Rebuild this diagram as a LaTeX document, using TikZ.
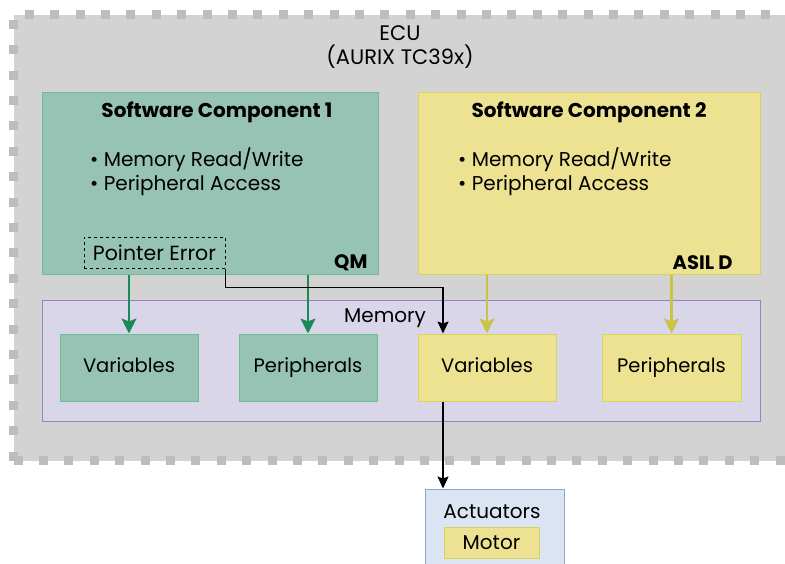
\documentclass[tikz,border=0pt]{standalone}
\usepackage{fontspec}
\setmainfont{Poppins}
\usetikzlibrary{arrows.meta,positioning}
\definecolor{ecufill}{HTML}{D3D3D3}
\definecolor{ecudash}{HTML}{BDBDBD}
\definecolor{qmfill}{HTML}{96C3B4}
\definecolor{qmline}{HTML}{6DBE8C}
\definecolor{asilfill}{HTML}{EDE291}
\definecolor{asilline}{HTML}{D6D35E}
\definecolor{memfill}{HTML}{DAD6EA}
\definecolor{memline}{HTML}{A37BC0}
\definecolor{qmarrow}{HTML}{1A8A5A}
\definecolor{asilarrow}{HTML}{C9C443}
\definecolor{actfill}{HTML}{DAE4F3}
\definecolor{actline}{HTML}{8EA6D6}
\tikzset{
  box/.style={draw, rectangle, inner sep=0pt, line width=1pt},
  qmbox/.style={box, draw=qmline, fill=qmfill},
  asilbox/.style={box, draw=asilline, fill=asilfill},
  cellbox/.style={minimum width=138pt, minimum height=67pt, text height=14pt, text depth=4pt,
    font=\fontsize{19.5}{24}\selectfont},
  swtitle/.style={font=\fontsize{20}{24}\selectfont\bfseries},
  level/.style={font=\fontsize{19.5}{24}\selectfont\bfseries, anchor=east},
  bullets/.style={align=left, anchor=north west, inner sep=0pt},
  ecuborder/.style={draw=ecudash, line width=9pt, dash pattern=on 9pt off 16.4pt},
  qmflow/.style={draw=qmarrow, line width=2.5pt, -{Stealth[length=15pt,width=15pt,inset=3pt]}},
  asilflow/.style={draw=asilarrow, line width=2.5pt, -{Stealth[length=15pt,width=15pt,inset=3pt]}},
  errflow/.style={draw=black, line width=1.6pt, -{Stealth[length=12pt,width=11pt,inset=2pt]}},
}
\begin{document}
\begin{tikzpicture}[x=1pt, y=-1pt, font=\fontsize{20}{24}\selectfont]
\clip (0,0) rectangle (785,563);
\fill[white] (0,0) rectangle (785,563);

% ECU frame
\fill[ecufill] (13.5,14.5) rectangle (800,460.5);
\draw[ecuborder] (13.5,460.5) -- (13.5,14.5) -- (800,14.5);
\draw[ecuborder] (13.5,460.5) -- (800,460.5);
\node[align=center, font=\fontsize{21}{24}\selectfont] (ecu) at (400,47) {ECU\\(AURIX TC39x)};

% software components
\node[qmbox, minimum width=336pt, minimum height=182pt] (sw1) at (210,183) {};
\node[asilbox, minimum width=342pt, minimum height=182pt] (sw2) at (589,183) {};
\node[swtitle] (sw1title) at (217,112) {Software Component 1};
\node[swtitle] (sw2title) at (589,112) {Software Component 2};
\node[bullets] (sw1list) at (90,147) {• Memory Read/Write\\• Peripheral Access};
\node[bullets] (sw2list) at (458,147) {• Memory Read/Write\\• Peripheral Access};
\node[level] (qm) at (371,263) {QM};
\node[level] (asil) at (736,263) {ASIL D};
\node[draw, dashed, line width=1pt, minimum width=141pt, minimum height=31pt, inner sep=0pt,
  font=\fontsize{20.5}{24}\selectfont] (perr) at (154.5,252.5) {Pointer Error};

% memory
\node[box, draw=memline, fill=memfill, minimum width=718pt, minimum height=121pt] (mem) at (401,360.5) {};
\node (memlabel) at (385,318) {Memory};
\node[qmbox, cellbox] (var1) at (129,367.5) {Variables};
\node[qmbox, cellbox] (per1) at (308,367.5) {Peripherals};
\node[asilbox, cellbox] (var2) at (487,367.5) {Variables};
\node[asilbox, cellbox, minimum width=139pt] (per2) at (671.5,367.5) {Peripherals};

% actuators
\node[box, draw=actline, fill=actfill, minimum width=139pt, minimum height=90pt] (act) at (494.5,534) {};
\node (actlabel) at (492,512) {Actuators};
\node[asilbox, minimum width=95pt, minimum height=31pt] (motor) at (491.5,542.5) {Motor};

% accesses
\draw[qmflow] (var1.north |- sw1.south) -- (var1.north);
\draw[qmflow] (per1.north |- sw1.south) -- (per1.north);
\draw[asilflow] (var2.north |- sw2.south) -- (var2.north);
\draw[asilflow] (per2.north |- sw2.south) -- (per2.north);
\coordinate (varin) at ([xshift=-44pt]var2.north);
\coordinate (varout) at ([xshift=-44pt]var2.south);
\draw[errflow] (perr.south east) -- ++(0,19) -| (varin);
\draw[errflow] (varout) -- (varout |- act.north);
\end{tikzpicture}
\end{document}
